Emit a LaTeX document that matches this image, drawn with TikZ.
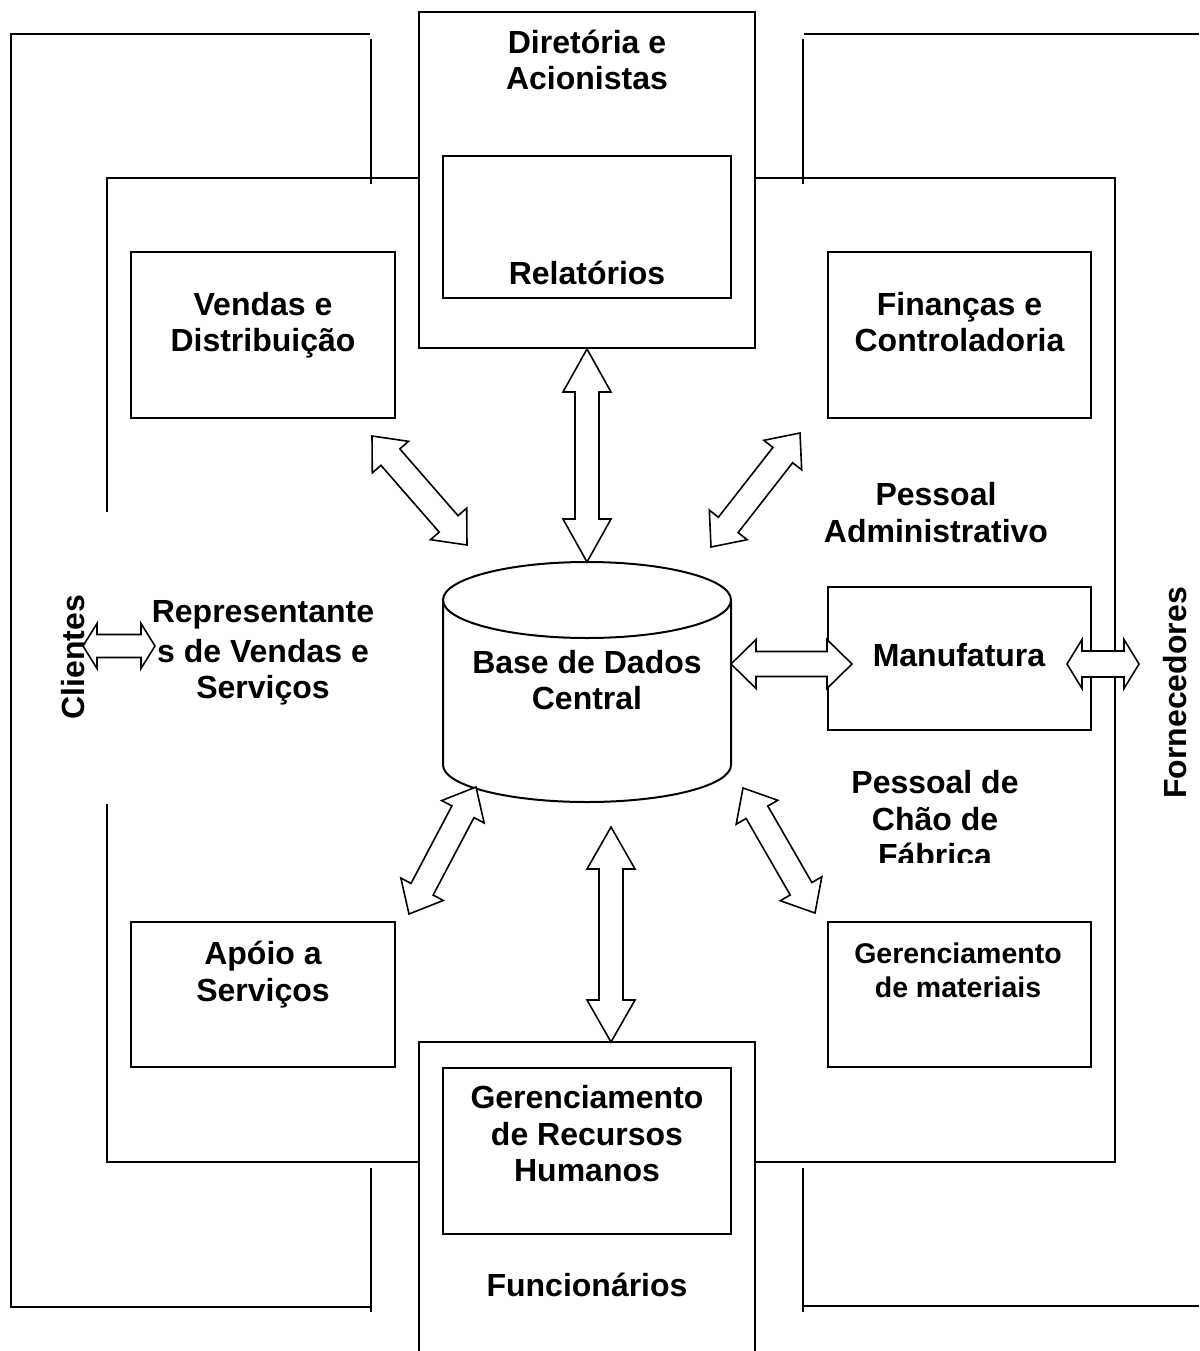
\documentclass[tikz,border=0pt]{standalone}
\usepackage{fontspec}
\setmainfont{Liberation Sans}
\usetikzlibrary{calc}

% double-headed block arrow: start, end, head length, head half-width, shaft half-width
\newcommand\ioarrow[5]{%
  \path let \p1=($(#2)-(#1)$) in \pgfextra{%
    \pgfmathsetmacro\arlen{veclen(\x1,\y1)}%
    \pgfmathsetmacro\arang{atan2(\y1,\x1)}%
    \global\let\arlen\arlen \global\let\arang\arang};
  \pgfmathsetmacro\arback{\arlen-#3}%
  \draw[dbl, shift={(#1)}, rotate=\arang]
    (0pt,0pt) -- (#3pt,#4pt) -- (#3pt,#5pt) -- (\arback pt,#5pt) -- (\arback pt,#4pt)
    -- (\arlen pt,0pt) -- (\arback pt,-#4pt) -- (\arback pt,-#5pt) -- (#3pt,-#5pt)
    -- (#3pt,-#4pt) -- cycle;
}

\begin{document}
\begin{tikzpicture}[x=1pt,y=-1pt,
  frame/.style={line width=2pt},
  box/.style={draw, line width=2pt, inner sep=0pt},
  dbl/.style={draw, line width=1.6pt, fill=white, line join=miter},
  lbl/.style={font=\bfseries\fontsize{32}{36}\selectfont, anchor=base, inner sep=0pt},
  lbls/.style={font=\bfseries\fontsize{28.5}{34}\selectfont, anchor=base, inner sep=0pt}]
\useasboundingbox (0,0) rectangle (1199,1351);

% outer brackets (clients side and suppliers side)
\draw[frame] (11,34) -- (370,34);
\draw[frame] (371,39) -- (371,184);
\draw[frame] (11,33) -- (11,1307) -- (371,1307);
\draw[frame] (371,1168) -- (371,1312);
\draw[frame] (804,34) -- (1199,34);
\draw[frame] (803,39) -- (803,184);
\draw[frame] (803,1306) -- (1199,1306);
\draw[frame] (803,1168) -- (803,1312);

% company frame
\draw[frame] (419,178) -- (107,178) -- (107,512);
\draw[frame] (107,804) -- (107,1162) -- (419,1162);
\draw[frame] (755,178) -- (1115,178) -- (1115,1162) -- (755,1162);

% top: board and shareholders
\node[box, minimum width=336pt, minimum height=336pt] (topbox) at (587,180) {};
\node[box, minimum width=288pt, minimum height=142pt] (relbox) at (587,227) {};
\node[lbl] (dir1) at (587,54) {Diretória e};
\node[lbl] (dir2) at (587,90) {Acionistas};
\node[lbl] (rel) at (587,284) {Relatórios};

% bottom: employees
\draw[frame] (419,1351) -- (419,1042) coordinate (botL) -- (755,1042) -- (755,1351);
\coordinate (botbox) at (611,1042);
\node[box, minimum width=288pt, minimum height=166pt] (hrbox) at (587,1151) {};
\node[lbl] (hr1) at (587,1108) {Gerenciamento};
\node[lbl] (hr2) at (587,1145) {de Recursos};
\node[lbl] (hr3) at (587,1181) {Humanos};
\node[lbl] (func) at (587,1296) {Funcionários};

% module boxes
\node[box, minimum width=264pt, minimum height=166pt] (vendas) at (263,335) {};
\node[lbl] (ven1) at (263,315) {Vendas e};
\node[lbl] (ven2) at (263,351) {Distribuição};

\node[box, minimum width=263pt, minimum height=166pt] (fin) at (959.5,335) {};
\node[lbl] (fin1) at (959.5,315) {Finanças e};
\node[lbl] (fin2) at (959.5,351) {Controladoria};

\node[box, minimum width=263pt, minimum height=143pt] (manuf) at (959.5,658.5) {};
\node[lbl] (man) at (959,666) {Manufatura};

\node[box, minimum width=264pt, minimum height=145pt] (apoio) at (263,994.5) {};
\node[lbl] (apo1) at (263,964) {Apóio a};
\node[lbl] (apo2) at (263,1001) {Serviços};

\node[box, minimum width=263pt, minimum height=145pt] (mat) at (959.5,994.5) {};
\node[lbls] (mat1) at (958,963) {Gerenciamento};
\node[lbls] (mat2) at (958,997) {de materiais};

% free labels
\node[lbl] (pa1) at (936,505) {Pessoal};
\node[lbl] (pa2) at (936,542) {Administrativo};
\node[lbl] (rep1) at (263,622) {Representante};
\node[lbl] (rep2) at (263,662) {s de Vendas e};
\node[lbl] (rep3) at (263,698) {Serviços};
\begin{scope}
  \clip (820,750) rectangle (1060,862);
  \node[lbl] (pc1) at (935,793) {Pessoal de};
  \node[lbl] (pc2) at (935,830) {Chão de};
  \node[lbl] (pc3) at (935,866) {Fábrica};
\end{scope}
\node[lbl, rotate=90, anchor=center] (cli) at (73,657) {Clientes};
\node[lbl, rotate=90, anchor=center] (forn) at (1175,693) {Fornecedores};

% central database
\coordinate (dbtop) at (587,562);
\draw[line width=2pt, fill=white] (443,600) -- (443,765)
  arc[start angle=180, end angle=0, x radius=144, y radius=37] -- (731,600);
\draw[line width=2pt] (587,600) ellipse [x radius=144, y radius=38];
\node[lbl] (db1) at (587,673) {Base de Dados};
\node[lbl] (db2) at (587,709) {Central};

% connector end points
\coordinate (a3s) at (372,436);  \coordinate (a3e) at (467,545);
\coordinate (a4s) at (800,433);  \coordinate (a4e) at (711,547);
\coordinate (a5s) at (476,787);  \coordinate (a5e) at (409,914);
\coordinate (a6s) at (743,788);  \coordinate (a6e) at (815,913);
\coordinate (a2s) at (611,827);
\coordinate (a7s) at (731,664);  \coordinate (a7e) at (852,664);
\coordinate (a8s) at (1067,664); \coordinate (a8e) at (1139,664);
\coordinate (a9s) at (83,646);   \coordinate (a9e) at (155,646);

% data flows
\ioarrow{topbox.south}{dbtop}{43}{24}{12}
\ioarrow{a2s}{botbox}{42}{24}{12}
\ioarrow{a3s}{a3e}{28}{24}{12.5}
\ioarrow{a4s}{a4e}{28}{24}{12.5}
\ioarrow{a5s}{a5e}{28}{24}{12.5}
\ioarrow{a6s}{a6e}{28}{24}{12.5}
\ioarrow{a7s}{a7e}{25}{24.5}{12.5}
\ioarrow{a8s}{a8e}{15}{24.5}{13}
\ioarrow{a9s}{a9e}{14}{22.5}{11.5}
\end{tikzpicture}
\end{document}
